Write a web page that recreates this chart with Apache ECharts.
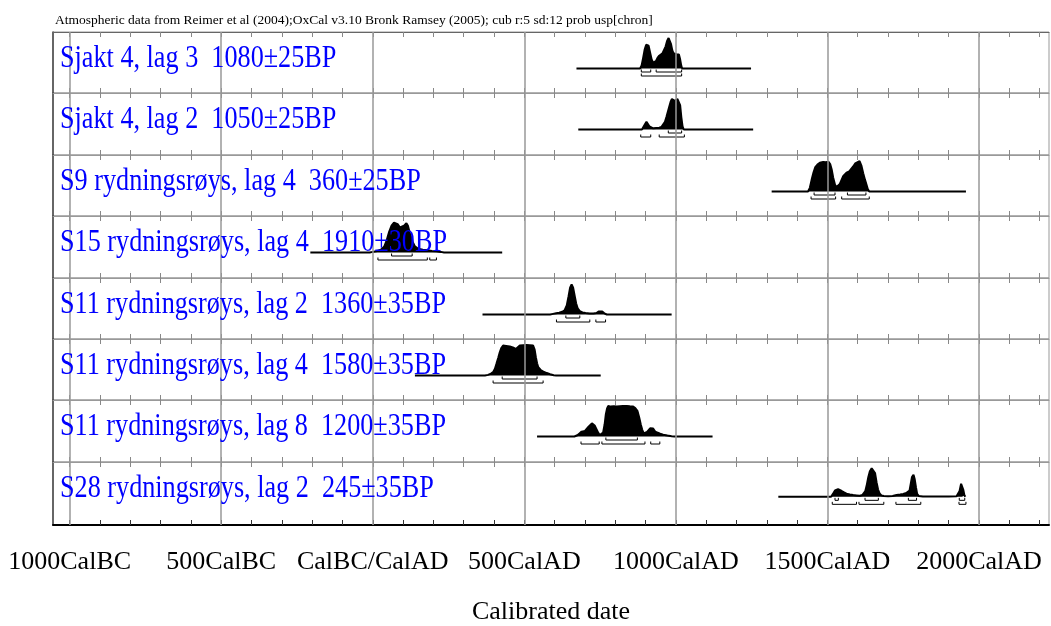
<!DOCTYPE html>
<html>
<head>
<meta charset="utf-8">
<title>OxCal multiplot</title>
<script src="https://cdn.jsdelivr.net/npm/echarts@6.0.0/dist/echarts.min.js"></script>
<style>
  html, body { margin: 0; padding: 0; background: #fff; }
  #chart { width: 1051px; height: 626px; }
</style>
</head>
<body>
<div id="chart"></div>
<script>
// 标题与坐标轴
const headerText = 'Atmospheric data from Reimer et al (2004);OxCal v3.10 Bronk Ramsey (2005); cub r:5 sd:12 prob usp[chron]';
const axisTitle = 'Calibrated date';
const majorTicks = [-1000, -500, 0, 500, 1000, 1500, 2000];
const majorLabels = ['1000CalBC', '500CalBC', 'CalBC/CalAD', '500CalAD', '1000CalAD', '1500CalAD', '2000CalAD'];
const minorTicks = [-1000, -900, -800, -700, -600, -500, -400, -300, -200, -100, 0, 100, 200, 300, 400, 500,
  600, 700, 800, 900, 1000, 1100, 1200, 1300, 1400, 1500, 1600, 1700, 1800, 1900, 2000, 2100, 2200];

// 样品
const sampleNames = [
  'Sjakt 4, lag 3', 'Sjakt 4, lag 2', 'S9 rydningsrøys, lag 4', 'S15 rydningsrøys, lag 4',
  'S11 rydningsrøys, lag 2', 'S11 rydningsrøys, lag 4', 'S11 rydningsrøys, lag 8', 'S28 rydningsrøys, lag 2'
];
const bpDates = ['1080±25BP', '1050±25BP', '360±25BP', '1910±30BP', '1360±35BP', '1580±35BP', '1200±35BP', '245±35BP'];

// 概率分布 [年份, 相对概率]
const probSjakt4Lag3 = [[672, 0], [882, 0], [887, 0.1], [892, 0.35], [897, 0.62], [902, 0.78], [906, 0.81], [910, 0.75],
  [915, 0.52], [920, 0.3], [925, 0.19], [929, 0.17], [934, 0.24], [939, 0.34], [945, 0.42], [951, 0.47], [956, 0.5],
  [961, 0.56], [966, 0.72], [971, 0.9], [976, 1.0], [980, 0.97], [984, 0.8], [988, 0.6], [992, 0.5], [997, 0.46],
  [1002, 0.47], [1006, 0.5], [1010, 0.46], [1014, 0.3], [1018, 0.08], [1021, 0], [1248, 0]];
const probSjakt4Lag2 = [[678, 0], [888, 0], [893, 0.06], [898, 0.17], [903, 0.25], [908, 0.2], [913, 0.1], [918, 0.05],
  [925, 0.04], [935, 0.05], [945, 0.06], [952, 0.08], [958, 0.12], [964, 0.25], [969, 0.42], [974, 0.6], [979, 0.78],
  [983, 0.92], [987, 1.0], [992, 0.98], [996, 0.94], [1000, 0.99], [1005, 1.0], [1010, 0.98], [1014, 0.8], [1018, 0.4],
  [1022, 0.1], [1026, 0], [1255, 0]];
const probS9Lag4 = [[1316, 0], [1436, 0], [1442, 0.12], [1448, 0.39], [1454, 0.62], [1460, 0.8], [1467, 0.88],
  [1475, 0.94], [1486, 0.97], [1495, 0.96], [1503, 0.98], [1509, 0.9], [1514, 0.72], [1519, 0.45], [1525, 0.22],
  [1530, 0.15], [1536, 0.16], [1541, 0.25], [1547, 0.39], [1552, 0.5], [1558, 0.55], [1563, 0.62], [1567, 0.58],
  [1572, 0.66], [1578, 0.7], [1585, 0.82], [1592, 0.92], [1598, 0.98], [1606, 1.0], [1612, 0.85], [1618, 0.6],
  [1624, 0.38], [1628, 0.25], [1633, 0.08], [1638, 0], [1957, 0]];
const probS15Lag4 = [[-206, 0], [-10, 0], [0, 0.02], [15, 0.05], [28, 0.1], [38, 0.2], [46, 0.4], [54, 0.68], [62, 0.88],
  [70, 0.98], [76, 1.0], [82, 0.93], [90, 0.82], [96, 0.8], [103, 0.88], [111, 0.96], [116, 0.88], [122, 0.64],
  [130, 0.38], [139, 0.2], [150, 0.12], [165, 0.09], [180, 0.07], [195, 0.05], [210, 0.04], [225, 0.02], [235, 0], [427, 0]];
const probS11Lag2 = [[362, 0], [585, 0], [595, 0.02], [605, 0.04], [615, 0.06], [625, 0.09], [633, 0.14], [640, 0.3],
  [646, 0.6], [651, 0.88], [656, 0.99], [661, 0.88], [666, 0.62], [671, 0.36], [676, 0.2], [683, 0.11], [692, 0.07],
  [702, 0.05], [715, 0.03], [728, 0.03], [738, 0.05], [745, 0.1], [751, 0.13], [757, 0.1], [764, 0.04], [772, 0], [986, 0]];
const probS11Lag4 = [[139, 0], [370, 0], [380, 0.02], [390, 0.06], [397, 0.11], [403, 0.22], [408, 0.38], [414, 0.58],
  [419, 0.76], [424, 0.9], [430, 0.98], [440, 0.97], [452, 0.95], [462, 0.92], [472, 0.87], [478, 0.92], [485, 0.98],
  [496, 0.99], [507, 1.0], [518, 0.99], [529, 0.98], [534, 0.85], [538, 0.6], [542, 0.4], [546, 0.27], [554, 0.18],
  [563, 0.13], [574, 0.08], [585, 0.04], [597, 0.01], [605, 0], [752, 0]];
const probS11Lag8 = [[542, 0], [665, 0], [675, 0.04], [682, 0.1], [689, 0.16], [695, 0.17], [700, 0.18], [706, 0.24],
  [712, 0.32], [718, 0.38], [723, 0.43], [727, 0.43], [732, 0.36], [738, 0.24], [744, 0.12], [749, 0.05], [754, 0.06],
  [760, 0.13], [765, 0.4], [769, 0.73], [773, 0.92], [777, 1.0], [785, 0.98], [795, 0.99], [805, 0.98], [815, 0.99],
  [825, 1.0], [838, 1.0], [848, 0.99], [859, 0.98], [866, 0.93], [873, 0.84], [879, 0.62], [884, 0.4], [889, 0.22],
  [894, 0.1], [900, 0.11], [905, 0.15], [909, 0.2], [915, 0.27], [920, 0.3], [925, 0.26], [931, 0.17], [938, 0.13],
  [948, 0.09], [958, 0.06], [972, 0.03], [986, 0.01], [995, 0], [1121, 0]];
const probS28Lag2 = [[1338, 0], [1512, 0], [1517, 0.06], [1521, 0.15], [1525, 0.22], [1530, 0.26], [1535, 0.26],
  [1541, 0.23], [1547, 0.2], [1555, 0.15], [1563, 0.11], [1574, 0.08], [1585, 0.06], [1596, 0.05], [1607, 0.04],
  [1615, 0.06], [1620, 0.1], [1625, 0.2], [1630, 0.42], [1635, 0.68], [1640, 0.88], [1646, 0.98], [1652, 0.97],
  [1657, 0.82], [1662, 0.5], [1667, 0.25], [1672, 0.12], [1678, 0.05], [1686, 0.03], [1700, 0.02], [1715, 0.03],
  [1728, 0.06], [1740, 0.08], [1750, 0.1], [1760, 0.13], [1766, 0.15], [1771, 0.22], [1775, 0.45], [1779, 0.68],
  [1784, 0.76], [1788, 0.6], [1792, 0.33], [1796, 0.1], [1801, 0.03], [1815, 0.01], [1900, 0.01], [1926, 0.02],
  [1932, 0.08], [1936, 0.2], [1941, 0.45], [1944, 0.49], [1948, 0.25], [1952, 0.05], [1955, 0], [1957, 0]];

// 置信区间 [起, 止, 层: 0=68.2% 1=95.4%]
const rangesSjakt4Lag3 = [[886, 917, 0], [935, 1019, 0], [886, 1019, 1]];
const rangesSjakt4Lag2 = [[975, 1019, 0], [884, 917, 1], [945, 1028, 1]];
const rangesS9Lag4 = [[1456, 1525, 0], [1566, 1627, 0], [1446, 1527, 1], [1547, 1638, 1]];
const rangesS15Lag4 = [[62, 130, 0], [17, 180, 1], [188, 210, 1]];
const rangesS11Lag2 = [[637, 683, 0], [606, 716, 1], [736, 768, 1]];
const rangesS11Lag4 = [[427, 542, 0], [397, 562, 1]];
const rangesS11Lag8 = [[769, 873, 0], [687, 747, 1], [756, 898, 1], [917, 947, 1]];
const rangesS28Lag2 = [[1525, 1536, 0], [1624, 1668, 0], [1767, 1794, 0], [1935, 1953, 0],
  [1516, 1596, 1], [1604, 1686, 1], [1726, 1808, 1], [1934, 1957, 1]];

const probList = [probSjakt4Lag3, probSjakt4Lag2, probS9Lag4, probS15Lag4, probS11Lag2, probS11Lag4, probS11Lag8, probS28Lag2];
const rangeList = [rangesSjakt4Lag3, rangesSjakt4Lag2, rangesS9Lag4, rangesS15Lag4, rangesS11Lag2, rangesS11Lag4, rangesS11Lag8, rangesS28Lag2];

// 版面
const XMIN = -1055;
const XMAX = 2231;
const rowTops = [32, 93, 155, 216, 278, 339, 400, 462];
const plotBottom = 528;
const BASE_PX = 36.5;  // 行顶到基线
const PEAK_PX = 30.5;  // 概率=1 的高度
const FONT = '"Liberation Serif", "Times New Roman", serif';

const chart = echarts.init(document.getElementById('chart'));

const grids = [];
const xAxes = [];
const yAxes = [];
const series = [];
const graphics = [];

rowTops.forEach((top, i) => {
  const bottom = i < rowTops.length - 1 ? rowTops[i + 1] : plotBottom;
  const h = bottom - top;
  const last = i === rowTops.length - 1;
  grids.push({ left: 53, right: 2, top: top, height: h, show: true, borderColor: '#999', borderWidth: 1 });

  // 顶部刻度（分隔线）
  xAxes.push({
    gridIndex: i, type: 'value', position: 'top', min: XMIN, max: XMAX,
    axisLine: { show: true, onZero: false, lineStyle: { color: i === 0 ? '#666' : '#999', width: 1 } },
    axisTick: { show: true, inside: true, length: 5, customValues: minorTicks, lineStyle: { color: '#888' } },
    axisLabel: { show: false },
    splitLine: { show: false }
  });
  // 底部刻度
  xAxes.push({
    gridIndex: i, type: 'value', position: 'bottom', min: XMIN, max: XMAX,
    axisLine: { show: last, onZero: false, lineStyle: { color: '#000', width: 2 } },
    axisTick: { show: true, inside: true, length: 5, customValues: minorTicks, lineStyle: { color: last ? '#333' : '#888' } },
    axisLabel: {
      show: last, customValues: majorTicks, margin: 24,
      fontFamily: FONT, fontSize: 26, color: '#000',
      formatter: v => majorLabels[majorTicks.indexOf(v)] || ''
    },
    splitLine: { show: false },
    name: last ? axisTitle : '',
    nameLocation: 'middle', nameGap: 74,
    nameTextStyle: { fontFamily: FONT, fontSize: 26, color: '#000' }
  });
  yAxes.push({
    gridIndex: i, type: 'value',
    min: -(h - BASE_PX) / PEAK_PX, max: BASE_PX / PEAK_PX,
    axisLine: { show: true, onZero: false, lineStyle: { color: '#444', width: 1.5 } },
    axisTick: { show: false }, axisLabel: { show: false }, splitLine: { show: false }
  });

  series.push({
    type: 'line', xAxisIndex: 2 * i + 1, yAxisIndex: i,
    data: probList[i], showSymbol: false, silent: true,
    lineStyle: { color: '#000', width: 2 },
    areaStyle: { color: '#000', opacity: 1 },
    markLine: {
      silent: true, symbol: ['none', 'none'], label: { show: false },
      lineStyle: { color: '#999', width: 1.5, type: 'solid' },
      data: majorTicks.map(v => ({ xAxis: v }))
    }
  });
  series.push({
    type: 'custom', xAxisIndex: 2 * i + 1, yAxisIndex: i,
    data: rangeList[i], silent: true,
    encode: { x: [0, 1] },
    renderItem: (params, api) => {
      const a = api.coord([api.value(0), 0]);
      const b = api.coord([api.value(1), 0]);
      const y = a[1] + (api.value(2) ? 7.5 : 3.5);
      return {
        type: 'polyline',
        shape: { points: [[a[0], y - 2.5], [a[0], y], [b[0], y], [b[0], y - 2.5]] },
        style: { stroke: '#000', fill: null, lineWidth: 1 }
      };
    }
  });

  graphics.push({
    type: 'text', x: 60, y: top + BASE_PX - 10, scaleX: 0.845, z: 100,
    style: {
      text: sampleNames[i] + '  ' + bpDates[i],
      font: '31px ' + FONT, fill: '#0000ff', align: 'left', verticalAlign: 'middle'
    }
  });
});

chart.setOption({
  animation: false,
  backgroundColor: '#fff',
  title: {
    text: headerText, left: 50, top: 8,
    textStyle: { fontFamily: FONT, fontSize: 13.5, fontWeight: 'normal', color: '#000' }
  },
  grid: grids,
  xAxis: xAxes,
  yAxis: yAxes,
  series: series,
  graphic: graphics
});
</script>
</body>
</html>
